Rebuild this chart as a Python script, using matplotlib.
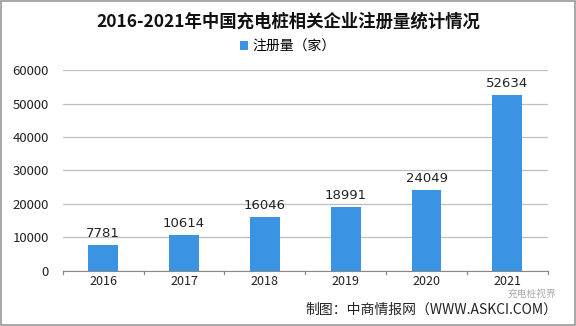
import matplotlib.pyplot as plt

plt.rcParams['font.family'] = ['Noto Sans CJK SC', 'DejaVu Sans']

years = ['2016', '2017', '2018', '2019', '2020', '2021']
counts = [7781, 10614, 16046, 18991, 24049, 52634]

fig = plt.figure(figsize=(5.76, 3.26), dpi=100)
ax = fig.add_axes([0.109, 0.169, 0.842, 0.616])

bars = ax.bar(years, counts, width=0.37, color='#3a93e3', label='注册量（家）', zorder=3)
for b, v in zip(bars, counts):
    ax.text(b.get_x() + b.get_width() / 2, v + 1500, str(v),
            ha='center', va='bottom', fontsize=9.5, family='DejaVu Sans', color='#222222')

ax.set_ylim(0, 60000)
ax.set_yticks(range(0, 60001, 10000))
ax.set_xlim(-0.5, 5.5)
ax.grid(axis='y', color='#bfbfbf', linewidth=0.9, zorder=0)
for s in ['top', 'right', 'left']:
    ax.spines[s].set_visible(False)
ax.spines['bottom'].set_color('#888888')
ax.tick_params(axis='y', length=0, labelsize=9.5, pad=10, colors='#222222')
ax.tick_params(axis='x', length=0, labelsize=9, colors='#222222', pad=3)
# small ticks between categories
for i in range(7):
    ax.plot([i - 0.5, i - 0.5], [0, -900], color='#888888', lw=0.9, clip_on=False)

fig.text(0.5, 0.935, '2016-2021年中国充电桩相关企业注册量统计情况',
         ha='center', va='center', fontsize=12.5, fontweight='bold', color='#111111')
fig.legend(loc='center', bbox_to_anchor=(0.5, 0.858), frameon=False, fontsize=10,
           handlelength=0.6, handleheight=0.6, handletextpad=0.3)
fig.text(0.968, 0.05, '制图：中商情报网（WWW.ASKCI.COM）', ha='right', va='center',
         fontsize=10, color='#222222')
fig.text(0.965, 0.098, '充电桩视界', ha='right', va='center', fontsize=7, color='#aaaaaa')

# outer border
fig.patches.append(plt.Rectangle((0.002, 0.003), 0.996, 0.994, transform=fig.transFigure,
                                 fill=False, edgecolor='#999999', lw=1.2))

fig.savefig('out.png', dpi=100)
